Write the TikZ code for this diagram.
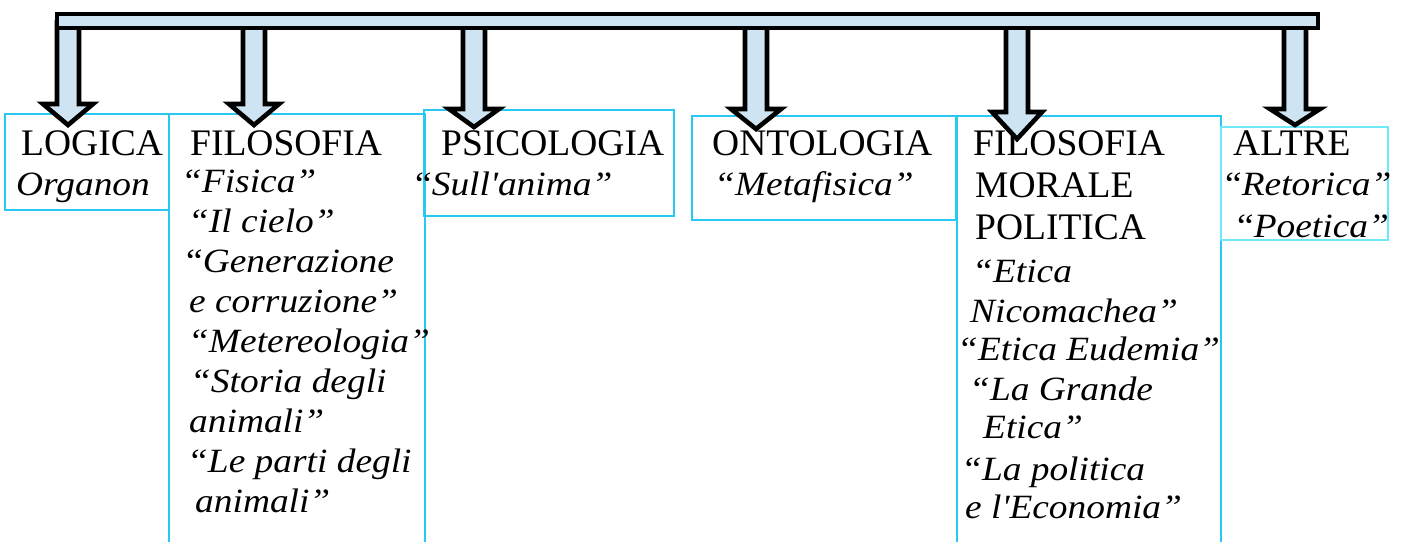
\documentclass[tikz,border=0pt]{standalone}
\usepackage{fontspec}
\setmainfont{Liberation Serif}
\newfontfamily\itfont{Liberation Serif}[FakeStretch=1.1]

\definecolor{barfill}{RGB}{207,228,242}
\definecolor{boxline}{RGB}{40,200,240}
\definecolor{boxlight}{RGB}{110,232,250}

\tikzset{
  capt/.style={font=\fontsize{37.5}{42}\selectfont, anchor=base west, inner sep=0pt},
  ital/.style={font=\itfont\fontsize{34}{40}\selectfont\itshape, anchor=base west, inner sep=0pt},
  box/.style={draw=boxline, line width=1.3pt},
  blockarrow/.style={draw=black, fill=barfill, line width=4.6pt, line join=miter},
}

\begin{document}
\begin{tikzpicture}[x=1pt, y=-1pt]
  \useasboundingbox (0,0) rectangle (1404,541);
  \clip (0,0) rectangle (1404,541);

  % boxes
  \draw[box] (5,114) rectangle (169,210);
  \draw[box] (169,560) -- (169,114) -- (425,114) -- (425,560);
  \draw[box] (424,110) rectangle (674,216);
  \draw[box] (692,116) rectangle (956,220);
  \draw[box] (957,560) -- (957,116) -- (1221,116) -- (1221,560);
  \draw[box, draw=boxlight] (1221,127) rectangle (1388,240);

  % texts
  \node[capt] (logica) at (21,155) {LOGICA};
  \node[ital] (organon) at (16,195) {Organon};

  \node[capt] (fisica) at (190,155) {FILOSOFIA};
  \foreach \x/\y/\t [count=\i] in {181/192/“Fisica”, 188/232/“Il cielo”,
      186/272/\textup{“}Generazione, 189/312/e corruzione”, 188/352/“Metereologia”,
      190/392/“Storia degli, 189/432/animali”, 187/472/“Le parti degli, 195/512/animali”}
    \node[ital] (fis-\i) at (\x,\y) {\t};

  \node[capt] (psico) at (441,155) {PSICOLOGIA};
  \node[ital] (anima) at (415,195) {\textup{“}Sull{\char"27}anima”};

  \node[capt] (onto) at (712,155) {ONTOLOGIA};
  \node[ital] (meta) at (714,195) {“Metafisica”};

  \foreach \x/\y/\t [count=\i] in {973/155/FILOSOFIA, 975/197/MORALE, 975/239/POLITICA}
    \node[capt] (mor-\i) at (\x,\y) {\t};
  \foreach \x/\y/\t [count=\i] in {972/282/“Etica, 970/322/Nicomachea”,
      957/360/“Etica Eudemia”, 969/400/“La Grande, 983/438/Etica”,
      961/480/“La politica, 965/518/e l{\char"27}Economia”}
    \node[ital] (etica-\i) at (\x,\y) {\t};

  \node[capt] (altre) at (1233,155) {ALTRE};
  \node[ital] (reto) at (1225,195) {\textup{“}Retorica”};
  \node[ital] (poet) at (1237,237) {\textup{“}Poetica”};

  % frecce
  \foreach \cx/\hy/\ty in {68/104/125, 254/104/125, 474/109/127,
      756/109/129, 1017/112/139, 1295/109/125}
    \draw[blockarrow] (\cx-11,20) -- (\cx-11,\hy) -- (\cx-25,\hy) -- (\cx,\ty)
      -- (\cx+25,\hy) -- (\cx+11,\hy) -- (\cx+11,20);

  % barra
  \draw[blockarrow] (57,14) rectangle (1318,28);
\end{tikzpicture}
\end{document}
